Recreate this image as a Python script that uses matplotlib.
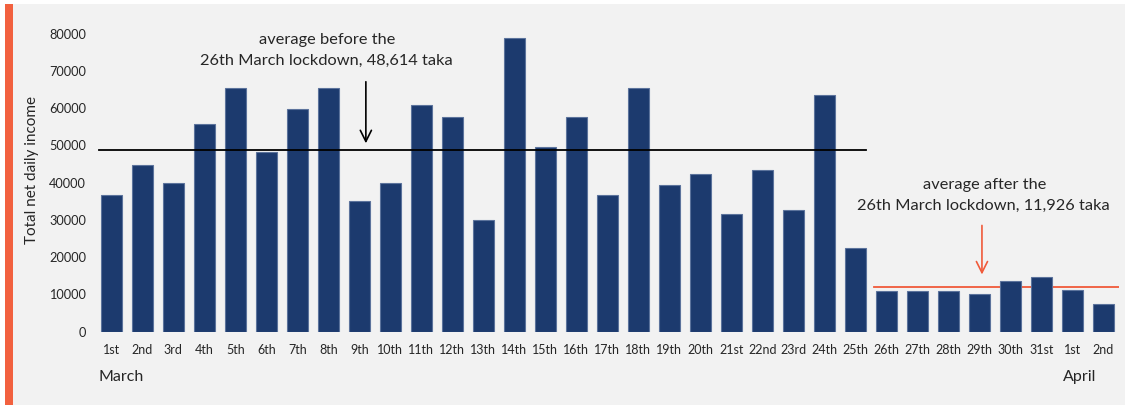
import matplotlib
matplotlib.use("Agg")
import matplotlib.pyplot as plt
from matplotlib.patches import Rectangle

days = ["1st", "2nd", "3rd", "4th", "5th", "6th", "7th", "8th", "9th", "10th",
        "11th", "12th", "13th", "14th", "15th", "16th", "17th", "18th", "19th", "20th",
        "21st", "22nd", "23rd", "24th", "25th", "26th", "27th", "28th", "29th", "30th",
        "31st", "1st", "2nd"]
income = [36700, 44700, 40000, 55800, 65300, 48100, 59800, 65300, 35100, 40000,
          60800, 57600, 29900, 78800, 49500, 57600, 36700, 65300, 39400, 42400,
          31600, 43500, 32600, 63400, 22400, 10800, 10800, 10800, 10000, 13500,
          14700, 11100, 7400]
avg_before = 48614
avg_after = 11926
yticks = [0, 10000, 20000, 30000, 40000, 50000, 60000, 70000, 80000]

plt.rcParams['font.family'] = ['Lato', 'DejaVu Sans']
text_col = '#262626'
bar_col = '#1c3a6e'
red = '#f05a3a'

fig = plt.figure(figsize=(11.29, 4.05), dpi=100)
fig.patch.set_facecolor('white')
fig.patches.append(Rectangle((5/1129, 0), 1120/1129, 401/405, transform=fig.transFigure,
                             facecolor='#f2f2f2', edgecolor='none', zorder=-10))
fig.patches.append(Rectangle((5/1129, 0), 7.5/1129, 401/405, transform=fig.transFigure,
                             facecolor='#f2613f', edgecolor='none', zorder=-9))

ax = fig.add_axes([95.8/1129, (405-331.7)/405, (1119-95.8)/1129, (331.7-33.5)/405])
ax.set_facecolor('none')
x = list(range(len(days)))
ax.bar(x, income, width=0.66, color=bar_col, edgecolor='#5c739c', linewidth=0.8, zorder=2)
ax.set_xlim(-0.5, len(days) - 0.5)
ax.set_ylim(0, 80000)
ax.set_yticks(yticks)
ax.set_yticklabels([str(v) for v in yticks], fontsize=9.2, color=text_col)
ax.set_xticks(x)
ax.set_xticklabels(days, fontsize=9, color=text_col)
ax.tick_params(axis='y', length=0, pad=7)
ax.tick_params(axis='x', length=0, pad=9)
for s in ax.spines.values():
    s.set_visible(False)

ax.plot([-0.40, 24.34], [avg_before, avg_before], color='black', lw=1.3, zorder=3)
ax.plot([24.61, 32.57], [avg_after, avg_after], color=red, lw=1.3, zorder=1)

ax.annotate('', xy=(8.21, 49800), xytext=(8.21, 67800),
            arrowprops=dict(arrowstyle='->', color='black', lw=1.2, mutation_scale=20))
ax.annotate('', xy=(28.08, 14600), xytext=(28.08, 29250),
            arrowprops=dict(arrowstyle='->', color=red, lw=1.2, mutation_scale=20))

fig.text(327/1129, 1 - 40/405, 'average before the', ha='center', va='center',
         fontsize=11.8, color=text_col)
fig.text(326/1129, 1 - 61/405, '26th March lockdown, 48,614 taka', ha='center', va='center',
         fontsize=11.8, color=text_col)
fig.text(985/1129, 1 - 185/405, 'average after the', ha='center', va='center',
         fontsize=11.8, color=text_col)
fig.text(983/1129, 1 - 206/405, '26th March lockdown, 11,926 taka', ha='center', va='center',
         fontsize=11.8, color=text_col)

fig.text(32/1129, 1 - 170/405, 'Total net daily income', rotation=90, ha='center', va='center',
         fontsize=11, color=text_col)
fig.text(99/1129, 1 - 377/405, 'March', ha='left', va='center', fontsize=11.5, color=text_col)
fig.text(1080/1129, 1 - 377/405, 'April', ha='center', va='center', fontsize=11.5, color=text_col)

fig.savefig('out.png', dpi=100, facecolor=fig.get_facecolor())
